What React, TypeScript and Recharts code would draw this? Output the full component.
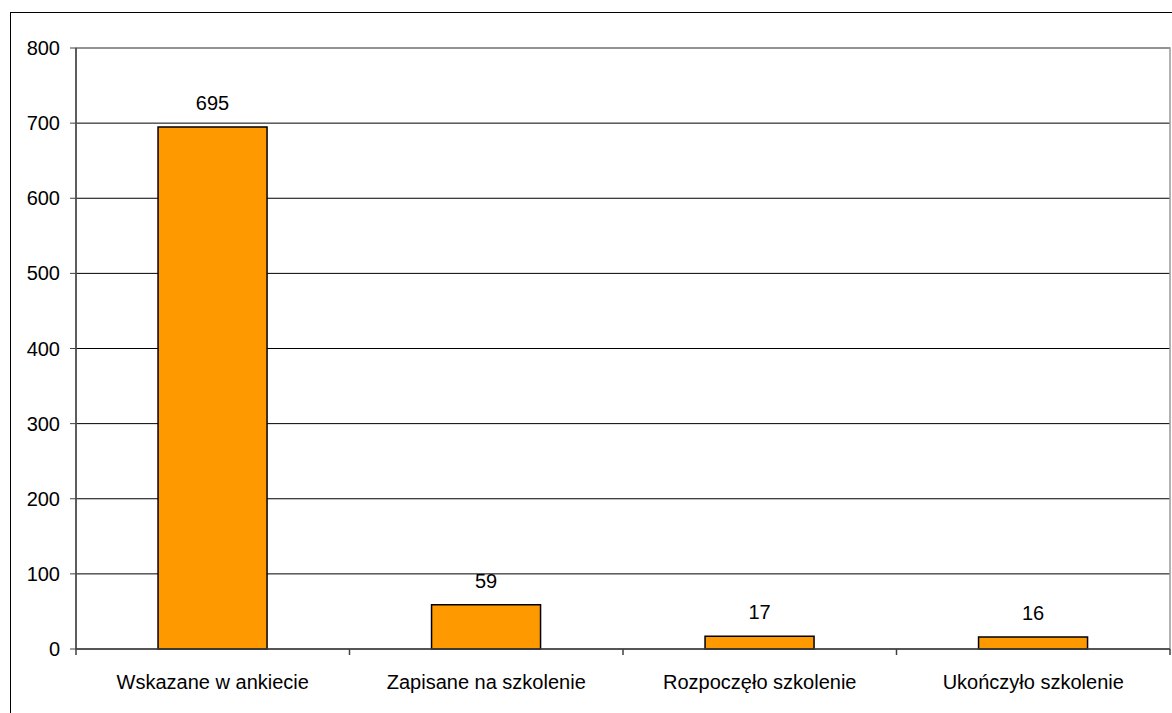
import React from "react";
import {
  BarChart,
  Bar,
  XAxis,
  YAxis,
  CartesianGrid,
  LabelList,
  ReferenceArea,
} from "recharts";

const categories = [
  "Wskazane w ankiecie",
  "Zapisane na szkolenie",
  "Rozpoczęło szkolenie",
  "Ukończyło szkolenie",
];
const values = [695, 59, 17, 16];
const yTicks = [0, 100, 200, 300, 400, 500, 600, 700, 800];

const data = categories.map((name, i) => ({ name, value: values[i] }));

const FONT = "'Liberation Sans', Arial, sans-serif";
const TICK_SIZE = 6;
const TICK_MARGIN = 20;
const AXIS_COLOR = "#404040";

// category label + divider tick marks at band edges (Excel style)
const CategoryTick = (props: any) => {
  const { x, y, payload, index, visibleTicksCount } = props;
  const half = payload?.offset ?? 0;
  const axisY = y - TICK_SIZE - TICK_MARGIN;
  return (
    <g>
      <line
        x1={x - half}
        x2={x - half}
        y1={axisY}
        y2={axisY + TICK_SIZE}
        stroke={AXIS_COLOR}
        strokeWidth={1.5}
      />
      {index === visibleTicksCount - 1 && (
        <line
          x1={x + half}
          x2={x + half}
          y1={axisY}
          y2={axisY + TICK_SIZE}
          stroke={AXIS_COLOR}
          strokeWidth={1.5}
        />
      )}
      <text
        x={x}
        y={y}
        dy="0.71em"
        textAnchor="middle"
        fill="#000"
        fontSize={20}
        fontFamily={FONT}
      >
        {payload.value}
      </text>
    </g>
  );
};

export default function App() {
  return (
    <div
      style={{
        position: "fixed",
        left: 0,
        top: 0,
        width: 1172,
        height: 713,
        overflow: "hidden",
        background: "#fff",
        fontFamily: FONT,
      }}
    >
      <div
        style={{
          position: "absolute",
          left: 10,
          top: 12,
          width: 1200,
          height: 800,
          border: "1px solid #000",
        }}
      />
      <div style={{ position: "absolute", left: 0, top: 0 }}>
        <BarChart
          width={1172}
          height={713}
          data={data}
          margin={{ top: 48, right: 2, left: 0, bottom: 24 }}
          barCategoryGap="30%"
        >
          <CartesianGrid
            xAxisId="cat"
            yAxisId="v"
            vertical={false}
            stroke="#000"
            strokeWidth={1}
          />
          <ReferenceArea
            yAxisId="v"
            xAxisId="cat"
            y1={0}
            y2={800}
            fill="none"
            stroke="#999"
            strokeWidth={1.5}
            fillOpacity={0}
          />
          <XAxis
            xAxisId="cat"
            dataKey="name"
            height={40}
            axisLine={{ stroke: AXIS_COLOR, strokeWidth: 1.5 }}
            tickLine={{ stroke: "none" }}
            tickSize={TICK_SIZE}
            tickMargin={TICK_MARGIN}
            interval={0}
            tick={<CategoryTick />}
          />
          <YAxis
            yAxisId="v"
            width={76}
            domain={[0, 800]}
            ticks={yTicks}
            interval={0}
            tickSize={6}
            tickMargin={10}
            axisLine={{ stroke: AXIS_COLOR, strokeWidth: 1.5 }}
            tickLine={{ stroke: AXIS_COLOR, strokeWidth: 1 }}
            tick={{ fill: "#000", fontSize: 20, fontFamily: FONT }}
          />
          <Bar
            xAxisId="cat"
            yAxisId="v"
            dataKey="value"
            fill="#FF9900"
            stroke="#000"
            strokeWidth={1.5}
            isAnimationActive={false}
          >
            <LabelList
              dataKey="value"
              position="top"
              offset={17}
              fill="#000"
              fontSize={20}
              fontFamily={FONT}
            />
          </Bar>
        </BarChart>
      </div>
    </div>
  );
}
